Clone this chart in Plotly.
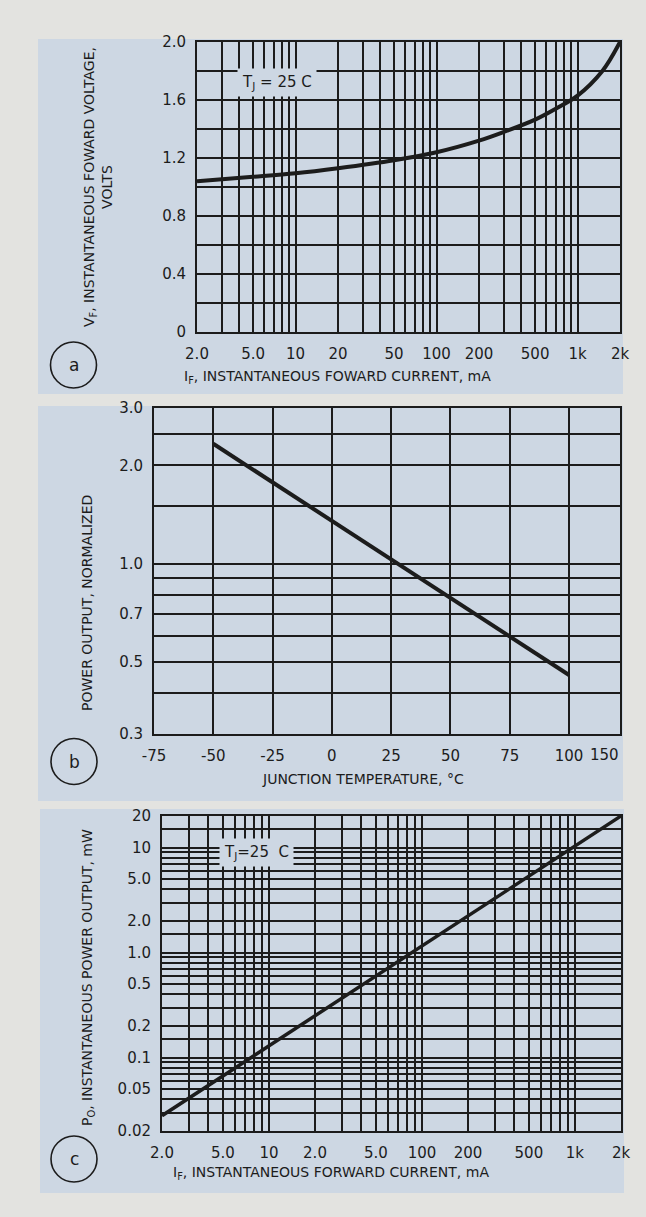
import math

import plotly.graph_objects as go

W, H = 646, 1217

PAPER = "#e3e3e0"
PANEL = "#cdd7e3"
INK = "#1c1c1c"
FONT = "DejaVu Sans"

# (a) forward voltage vs forward current, TJ = 25 C
if_a = [2, 5, 10, 20, 50, 100, 200, 300, 500, 700, 1000, 1500, 2000]
vf_a = [1.04, 1.07, 1.095, 1.13, 1.185, 1.24, 1.32, 1.38, 1.465, 1.54, 1.63, 1.80, 2.0]

# (b) normalized power output vs junction temperature
tj_b = [-50, 25, 100]
po_b = [2.33, 1.03, 0.455]

# (c) power output vs forward current, TJ = 25 C
if_c = [2, 20, 200, 2000]
po_c = [0.028, 0.25, 2.2, 20]

# grid lines and tick labels
cur_grid = [2, 3, 4, 5, 6, 7, 8, 9, 10, 20, 30, 40, 50, 60, 70, 80, 90,
            100, 200, 300, 400, 500, 600, 700, 800, 900, 1000, 2000]
a_x_labels = {2: "2.0", 5: "5.0", 10: "10", 20: "20", 50: "50", 100: "100",
              200: "200", 500: "500", 1000: "1k", 2000: "2k"}
c_x_labels = {2: "2.0", 5: "5.0", 10: "10", 20: "2.0", 50: "5.0", 100: "100",
              200: "200", 500: "500", 1000: "1k", 2000: "2k"}

a_y_grid = [0, 0.2, 0.4, 0.6, 0.8, 1.0, 1.2, 1.4, 1.6, 1.8, 2.0]
a_y_labels = {0: "0", 0.4: "0.4", 0.8: "0.8", 1.2: "1.2", 1.6: "1.6", 2.0: "2.0"}

b_x_grid = [-75, -50, -25, 0, 25, 50, 75, 100]
b_x_labels = {v: str(v) for v in b_x_grid}
b_y_grid = [0.3, 0.4, 0.5, 0.6, 0.7, 0.8, 0.9, 1.0, 1.5, 2.0, 2.5, 3.0]
b_y_labels = {0.3: "0.3", 0.5: "0.5", 0.7: "0.7", 1.0: "1.0", 2.0: "2.0", 3.0: "3.0"}

c_y_grid = [0.02, 0.03, 0.04, 0.05, 0.06, 0.07, 0.08, 0.09,
            0.1, 0.15, 0.2, 0.3, 0.4, 0.5, 0.6, 0.7, 0.8, 0.9,
            1, 1.5, 2, 3, 4, 5, 6, 7, 8, 9, 10, 15, 20]
c_y_labels = {0.02: "0.02", 0.05: "0.05", 0.1: "0.1", 0.2: "0.2", 0.5: "0.5",
              1: "1.0", 2: "2.0", 5: "5.0", 10: "10", 20: "20"}


def px_x(p):
    return p / W


def px_y(p):
    return 1 - p / H


def axis_style(grid, labels, **kw):
    # labelled values are major ticks, the rest of the ruling is minor grid
    base = dict(
        showline=True, mirror=True, linecolor=INK, linewidth=2,
        showgrid=True, gridcolor=INK, gridwidth=1.5, zeroline=False,
        ticks="outside", tickcolor="rgba(0,0,0,0)",
        tickfont=dict(family=FONT, size=15, color=INK),
        tickmode="array", fixedrange=True,
        tickvals=list(labels.keys()), ticktext=list(labels.values()),
        minor=dict(tickmode="array", tickvals=[v for v in grid if v not in labels],
                   showgrid=True, gridcolor=INK, gridwidth=1.5, ticks=""),
    )
    base.update(kw)
    return base


fig = go.Figure()
fig.add_trace(go.Scatter(x=if_a, y=vf_a, mode="lines", line_shape="spline",
                         line=dict(color=INK, width=4), xaxis="x", yaxis="y"))
fig.add_trace(go.Scatter(x=tj_b, y=po_b, mode="lines", line=dict(color=INK, width=4),
                         xaxis="x2", yaxis="y2"))
fig.add_trace(go.Scatter(x=if_c, y=po_c, mode="lines", line=dict(color=INK, width=3.5),
                         xaxis="x3", yaxis="y3"))

shapes = []
# light-blue panel cards
for x0, y0, x1, y1 in [(38, 39, 623, 394), (38, 406, 623, 801), (40, 809, 624, 1193)]:
    shapes.append(dict(type="rect", xref="paper", yref="paper", layer="below",
                       x0=px_x(x0), x1=px_x(x1), y0=px_y(y1), y1=px_y(y0),
                       fillcolor=PANEL, line=dict(width=0)))
# circled panel letters
circles = [(73.5, 365, "a"), (74, 761.5, "b"), (74, 1159, "c")]
for cx, cy, _ in circles:
    shapes.append(dict(type="circle", xref="paper", yref="paper",
                       x0=px_x(cx - 23), x1=px_x(cx + 23),
                       y0=px_y(cy + 23), y1=px_y(cy - 23),
                       line=dict(color=INK, width=1.6)))

title_font = dict(family=FONT, size=14, color=INK)
tj_font = dict(family=FONT, size=15, color=INK)
annotations = [
    dict(text="V<sub>F</sub>, INSTANTANEOUS FOWARD VOLTAGE,<br>VOLTS",
         x=px_x(98), y=px_y(187), textangle=-90, font=title_font),
    dict(text="I<sub>F</sub>, INSTANTANEOUS FOWARD CURRENT, mA",
         x=px_x(337), y=px_y(377), font=title_font),
    dict(text="POWER OUTPUT, NORMALIZED",
         x=px_x(87), y=px_y(603), textangle=-90, font=title_font),
    dict(text="JUNCTION TEMPERATURE, \u00b0C",
         x=px_x(363), y=px_y(779), font=title_font),
    dict(text="P<sub>O</sub>, INSTANTANEOUS POWER OUTPUT, mW",
         x=px_x(88), y=px_y(978), textangle=-90, font=title_font),
    dict(text="I<sub>F</sub>, INSTANTANEOUS FORWARD CURRENT, mA",
         x=px_x(331), y=px_y(1173), font=title_font),
    dict(text="T<sub>J</sub> = 25 C", x=px_x(277), y=px_y(83),
         bgcolor=PANEL, borderpad=4, font=tj_font),
    dict(text="T<sub>J</sub>=25\u00a0\u00a0C", x=px_x(256), y=px_y(852),
         bgcolor=PANEL, borderpad=4, font=tj_font),
]
for cx, cy, letter in circles:
    annotations.append(dict(text=letter, x=px_x(cx), y=px_y(cy),
                            font=dict(family=FONT, size=17, color=INK)))
# last temperature label squeezed against the right frame
annotations.append(dict(text="150", x=115, xref="x2", y=px_y(755), yref="paper",
                        font=dict(family=FONT, size=15, color=INK)))
for a in annotations:
    a.setdefault("xref", "paper")
    a.setdefault("yref", "paper")
    a.setdefault("showarrow", False)
    a.setdefault("xanchor", "center")
    a.setdefault("yanchor", "middle")

fig.update_layout(
    width=W, height=H,
    template="none",
    margin=dict(l=0, r=0, t=0, b=0),
    paper_bgcolor=PAPER, plot_bgcolor=PANEL,
    showlegend=False,
    shapes=shapes,
    annotations=annotations,
    xaxis=axis_style(cur_grid, a_x_labels, domain=[px_x(197), px_x(620)], type="log",
                     anchor="y", range=[math.log10(2), math.log10(2000)], ticklen=7),
    yaxis=axis_style(a_y_grid, a_y_labels, domain=[px_y(332), px_y(42)], anchor="x",
                     range=[0, 2.0], ticklen=6),
    xaxis2=axis_style(b_x_grid, b_x_labels, domain=[px_x(154), px_x(620)], anchor="y2",
                      range=[-75, 121.5], ticklen=7),
    yaxis2=axis_style(b_y_grid, b_y_labels, domain=[px_y(734), px_y(408)], anchor="x2",
                      type="log", range=[math.log10(0.3), math.log10(3.0)], ticklen=6),
    xaxis3=axis_style(cur_grid, c_x_labels, domain=[px_x(162), px_x(621)], type="log",
                      anchor="y3", range=[math.log10(2), math.log10(2000)], ticklen=7),
    yaxis3=axis_style(c_y_grid, c_y_labels, domain=[px_y(1131), px_y(816)], anchor="x3",
                      type="log", range=[math.log10(0.02), math.log10(20)], ticklen=6),
)

fig.write_html("out.html", config={"displayModeBar": False},
               post_script="document.body.style.margin = '0';")
